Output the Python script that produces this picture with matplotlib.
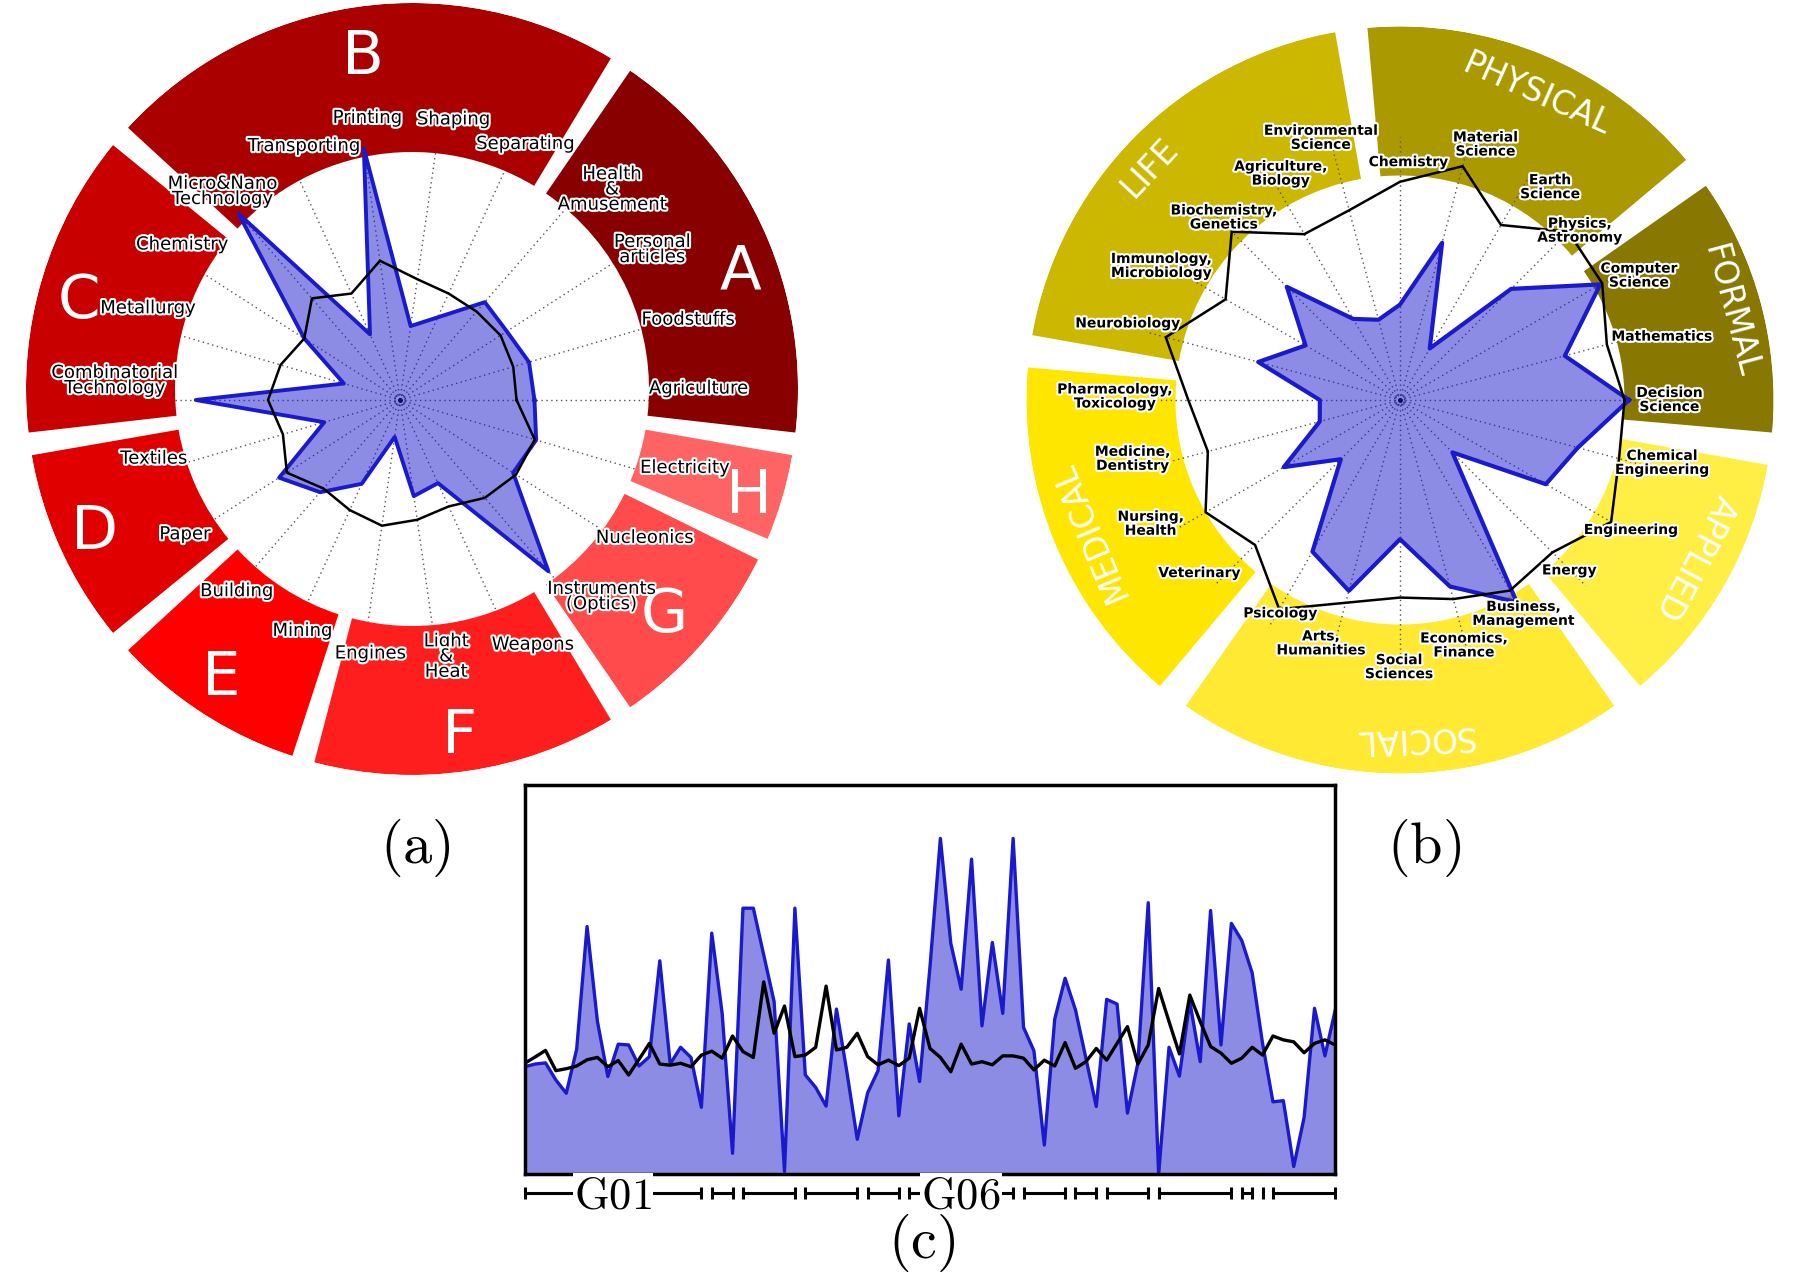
import numpy as np
import matplotlib
matplotlib.use('Agg')
import matplotlib.pyplot as plt
import matplotlib.patheffects as pe
import matplotlib.transforms as mtransforms

plt.rcParams['mathtext.fontset'] = 'cm'
plt.rcParams['font.family'] = ['DejaVu Sans']

# ---------------- data: panel (a) ----------------
a_categories = ["Agriculture", "Foodstuffs", "Personal\narticles", "Health\n&\nAmusement",
                "Separating", "Shaping", "Printing", "Transporting", "Micro&Nano\nTechnology",
                "Chemistry", "Metallurgy", "Combinatorial\nTechnology", "Textiles", "Paper",
                "Building", "Mining", "Engines", "Light\n&\nHeat", "Weapons",
                "Instruments\n(Optics)", "Nucleonics", "Electricity"]
a_blue = [0.54, 0.54, 0.51, 0.52, 0.365, 0.30, 1.02, 0.29, 0.99, 0.457, 0.235, 0.82,
          0.317, 0.577, 0.49, 0.37, 0.15, 0.39, 0.367, 0.91, 0.54, 0.57]
a_black = [0.468, 0.474, 0.48, 0.47, 0.47, 0.49, 0.565, 0.47, 0.54, 0.457, 0.50, 0.53,
           0.49, 0.54, 0.47, 0.486, 0.51, 0.486, 0.47, 0.52, 0.554, 0.564]
a_group_names = ["A", "B", "C", "D", "E", "F", "G", "H"]
a_group_sizes = [4, 5, 3, 2, 2, 3, 2, 1]
a_group_colors = ["#880000", "#aa0000", "#c80000", "#e00000", "#ff0000", "#ff1e1e",
                  "#ff4b4b", "#ff6464"]

# ---------------- data: panel (b) ----------------
b_categories = ["Decision\nScience", "Mathematics", "Computer\nScience", "Physics,\nAstronomy",
                "Earth\nScience", "Material\nScience", "Chemistry", "Environmental\nScience",
                "Agriculture,\nBiology", "Biochemistry,\nGenetics", "Immunology,\nMicrobiology",
                "Neurobiology", "Pharmacology,\nToxicology", "Medicine,\nDentistry",
                "Nursing,\nHealth", "Veterinary", "Psicology", "Arts,\nHumanities",
                "Social\nSciences", "Economics,\nFinance", "Business,\nManagement", "Energy",
                "Engineering", "Chemical\nEngineering"]
b_blue = [1.02, 0.76, 1.03, 0.70, 0.265, 0.725, 0.425, 0.37, 0.417, 0.713, 0.486, 0.654,
          0.357, 0.37, 0.598, 0.373, 0.78, 0.88, 0.62, 0.86, 1.04, 0.33, 0.75, 0.82]
b_black = [1.0, 0.954, 1.04, 1.06, 0.90, 1.078, 0.972, 0.875, 0.853, 1.06, 0.897, 1.08,
           0.943, 0.886, 1.0, 0.913, 1.076, 0.935, 0.88, 0.918, 0.98, 0.96, 1.086, 1.01]
b_group_names = ["FORMAL", "PHYSICAL", "LIFE", "MEDICAL", "SOCIAL", "APPLIED"]
b_group_sizes = [3, 4, 5, 4, 5, 3]
b_group_colors = ["#887700", "#aa9900", "#ccb800", "#ffe600", "#ffe933", "#ffee44"]

# ---------------- data: panel (c) ----------------
c_blue = [0.276, 0.283, 0.286, 0.242, 0.208, 0.321, 0.636, 0.392, 0.251, 0.334,
          0.332, 0.278, 0.302, 0.548, 0.283, 0.326, 0.300, 0.172, 0.619, 0.413,
          0.054, 0.683, 0.683, 0.563, 0.443, 0.007, 0.683, 0.255,
          0.223, 0.175, 0.424, 0.263, 0.090, 0.209, 0.266, 0.550, 0.150, 0.386,
          0.238, 0.533, 0.862, 0.593, 0.475, 0.809, 0.381, 0.595, 0.413, 0.862,
          0.377, 0.317, 0.075, 0.398, 0.503, 0.422,
          0.298, 0.174, 0.449, 0.437, 0.157, 0.285, 0.697, 0.0, 0.326, 0.252,
          0.443, 0.289, 0.677, 0.332, 0.644, 0.600, 0.517, 0.336, 0.186, 0.189,
          0.020, 0.146, 0.426, 0.304, 0.422]
c_black = [0.285, 0.301, 0.318, 0.266, 0.271, 0.278, 0.294, 0.300, 0.276, 0.292,
           0.255, 0.295, 0.336, 0.283, 0.280, 0.285, 0.276, 0.306, 0.316, 0.298,
           0.355, 0.315, 0.300, 0.494, 0.362, 0.432, 0.302, 0.306,
           0.326, 0.483, 0.319, 0.326, 0.362, 0.302, 0.281, 0.293, 0.279, 0.298,
           0.426, 0.323, 0.300, 0.263, 0.334, 0.283, 0.289, 0.281, 0.304, 0.304,
           0.298, 0.268, 0.293, 0.278, 0.338, 0.272,
           0.289, 0.323, 0.293, 0.336, 0.379, 0.283, 0.332, 0.477, 0.392, 0.309,
           0.460, 0.392, 0.328, 0.311, 0.285, 0.298, 0.326, 0.306, 0.355, 0.345,
           0.340, 0.312, 0.336, 0.345, 0.332]
c_group_names = ["G01", "G02", "G03", "G04", "G05", "G06", "G07", "G08", "G09", "G10",
                 "G11", "G12", "G21"]
c_group_sizes = [18, 3, 6, 6, 4, 11, 5, 3, 5, 8, 2, 1, 7]
c_shown_groups = ["G01", "G06"]

# ---------------- layout (positions only) ----------------
a_label_pos = [(2.2, 1.20), (15.6, 1.20), (30.8, 1.18), (44.8, 1.20), (63.9, 1.145),
               (79.2, 1.147), (96.6, 1.14), (110.7, 1.09), (130.4, 1.10), (144.5, 1.075),
               (160, 1.077), (176.1, 1.148), (193.4, 1.016), (212, 1.018), (229.5, 1.01),
               (247.1, 1.007), (263.3, 1.025), (280.2, 1.047), (298.5, 1.118),
               (315.7, 1.13), (330.6, 1.128), (346.6, 1.176)]
a_letter_pos = [(20.6, 0.909), (98.3, 0.885), (164.2, 0.897), (203.4, 0.896),
                (236, 0.885), (277.9, 0.891), (319, 0.867), (343.4, 0.912)]
b_label_pos = [(0, 1.2), (13.6, 1.2), (27.5, 1.2), (43.3, 1.1), (54.8, 1.16), (71.5, 1.2),
               (88, 1.06), (106.8, 1.22), (117.8, 1.14), (134, 1.13), (150.7, 1.22),
               (164.3, 1.26), (179.3, 1.27), (192.4, 1.22), (206.4, 1.24), (220.8, 1.18),
               (240.7, 1.09), (252, 1.14), (269.8, 1.19), (284.6, 1.13), (300, 1.1),
               (314.8, 1.07), (330.6, 1.18), (346.5, 1.2)]
b_group_label_pos = [(15, 1.54), (65.9, 1.506), (137.1, 1.536), (202.9, 1.52),
                     (272.3, 1.52), (332, 1.505)]

BLUE = "#1a1acc"
SPOKE = dict(color="#555555", lw=1.0, ls=(0, (1, 2.5)))
W, H = 1800, 1275

fig = plt.figure(figsize=(18, 12.75), dpi=100)


def polar_axes(cx, cy, rad_px, rmax, z):
    ax = fig.add_axes([(cx - rad_px) / W, (H - cy - rad_px) / H, 2 * rad_px / W, 2 * rad_px / H],
                      projection='polar', zorder=z)
    ax.set_ylim(0, rmax)
    ax.set_axis_off()
    return ax


def ring(ax, sizes, colors, n, gap_deg, inner, outer):
    step = 2 * np.pi / n
    start = 0
    for size, col in zip(sizes, colors):
        t0 = (start - 0.5) * step + np.deg2rad(gap_deg / 2)
        t1 = (start + size - 0.5) * step - np.deg2rad(gap_deg / 2)
        ax.bar((t0 + t1) / 2, outer - inner, width=t1 - t0, bottom=inner, color=col,
               edgecolor='none', zorder=1)
        start += size


def radar(ax, theta, blue, black, lwb, lwk):
    tc = np.append(theta, theta[0])
    bc = np.append(blue, blue[0])
    kc = np.append(black, black[0])
    ax.fill(tc, bc, color=BLUE, alpha=0.5, lw=0, zorder=3)
    ax.plot(tc, bc, color=BLUE, lw=lwb, zorder=4)
    ax.plot(tc, kc, color='black', lw=lwk, zorder=4)


def spokes(ax, theta, rlen):
    for t in theta:
        ax.plot([t, t], [0, rlen], zorder=2, **SPOKE)
    circ = np.linspace(0, 2 * np.pi, 100)
    ax.plot(circ, np.full_like(circ, 0.02), color='#333333', lw=0.8, ls=(0, (1, 1.5)), zorder=2)
    ax.plot([0], [0], 'o', ms=2.5, color='black', zorder=2)


stroke = [pe.withStroke(linewidth=3, foreground='white')]

# ---------------- panel (a) ----------------
na = len(a_categories)
ta = np.arange(na) * 2 * np.pi / na
ax_sp = polar_axes(400, 400, 1.3 * 249, 1.3, 1)
spokes(ax_sp, ta, 1.2)
ax_ring = polar_axes(412, 389, 386, 1.0, 2)
ring(ax_ring, a_group_sizes, a_group_colors, na, 3.4, 237 / 386, 1.0)
for name, (ang, r) in zip(a_group_names, a_letter_pos):
    ax_ring.text(np.deg2rad(ang), r, name, fontsize=44, color='white', ha='center',
                 va='center_baseline', zorder=5)
ax_a = polar_axes(400, 400, 1.3 * 249, 1.3, 3)
radar(ax_a, ta, a_blue, a_black, 2.8, 1.8)
for lab, (ang, r) in zip(a_categories, a_label_pos):
    ax_a.text(np.deg2rad(ang), r, lab, fontsize=13, ha='center', va='center',
              linespacing=0.8, path_effects=stroke, zorder=6, clip_on=False)

# ---------------- panel (b) ----------------
nb = len(b_categories)
tb = np.arange(nb) * 2 * np.pi / nb
rb_out = 373.6 / 224.5
ax_b = polar_axes(1400, 400, 373.6, rb_out, 3)
ring(ax_b, b_group_sizes, b_group_colors, nb, 5.0, 1.0, rb_out)
spokes(ax_b, tb, 1.17)
radar(ax_b, tb, b_blue, b_black, 3.0, 1.8)
for lab, (ang, r) in zip(b_categories, b_label_pos):
    ax_b.text(np.deg2rad(ang), r, lab, fontsize=10, fontweight='bold', ha='center',
              va='center', linespacing=1.0, path_effects=stroke, zorder=6, clip_on=False)
for name, (ang, r) in zip(b_group_names, b_group_label_pos):
    ax_b.text(np.deg2rad(ang), r, name, fontsize=23.5, color='white', ha='center',
              va='center_baseline', rotation=ang - 90, rotation_mode='anchor', zorder=5)

# ---------------- panel (c) ----------------
l, rgt, top, bot = 524.7, 1335.3, 784.7, 1174.3
ax_c = fig.add_axes([l / W, 1 - bot / H, (rgt - l) / W, (bot - top) / H])
xc = np.arange(len(c_blue))
ax_c.fill_between(xc, 0, c_blue, color=BLUE, alpha=0.5, lw=0)
ax_c.plot(xc, c_blue, color=BLUE, lw=2.4)
ax_c.plot(xc, c_black, color='black', lw=2.4)
ax_c.set_xlim(0, len(c_blue) - 1)
ax_c.set_ylim(0, 1)
ax_c.set_xticks([])
ax_c.set_yticks([])
for sp in ax_c.spines.values():
    sp.set_linewidth(2.5)

trans = mtransforms.blended_transform_factory(ax_c.transData, ax_c.transAxes)
yb = -(1193 - bot) / (bot - top)
th = 6 / (bot - top)
start = 0
for name, size in zip(c_group_names, c_group_sizes):
    x0, x1 = start, start + size - 1
    if x1 > x0:
        ax_c.plot([x0, x1], [yb, yb], transform=trans, color='black', lw=2.2,
                  solid_capstyle='butt', clip_on=False)
    for xx in {x0, x1}:
        ax_c.plot([xx, xx], [yb - th, yb + th], transform=trans, color='black', lw=2.2,
                  solid_capstyle='butt', clip_on=False)
    if name in c_shown_groups:
        ax_c.text((x0 + x1) / 2, yb - 0.008, r'$\mathrm{%s}$' % name, transform=trans,
                  fontsize=32, ha='center', va='center', clip_on=False,
                  bbox=dict(facecolor='white', edgecolor='none', pad=1))
    start += size

fig.text(0.231, 0.335, r'$\mathrm{(a)}$', fontsize=42, ha='center', va='center')
fig.text(0.791, 0.335, r'$\mathrm{(b)}$', fontsize=42, ha='center', va='center')
fig.text(0.512, 0.025, r'$\mathrm{(c)}$', fontsize=42, ha='center', va='center')

fig.savefig('out.png', dpi=100, facecolor='white')
